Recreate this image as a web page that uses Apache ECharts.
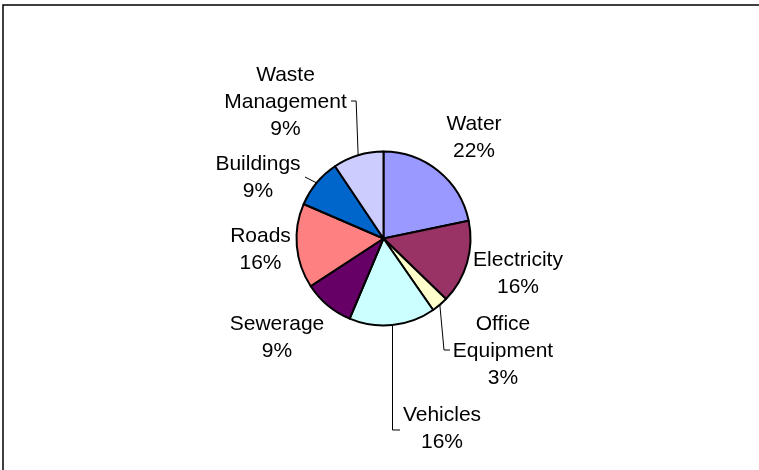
<!DOCTYPE html>
<html>
<head>
<meta charset="utf-8">
<script src="https://cdn.jsdelivr.net/npm/echarts@6/dist/echarts.min.js"></script>
<style>
  html, body { margin: 0; padding: 0; background: #fff; }
  #chart { width: 759px; height: 470px; }
</style>
</head>
<body>
<div id="chart"></div>
<script>
// ---- data ----
const categories = ['Water', 'Electricity', 'Office Equipment', 'Vehicles', 'Sewerage', 'Roads', 'Buildings', 'Waste Management'];
const values = [21.7, 15.5, 3.1, 16.0, 9.4, 15.7, 9.1, 9.4];

// ---- style ----
const colors = ['#9999FF', '#993366', '#FFFFCC', '#CCFFFF', '#660066', '#FF8080', '#0066CC', '#CCCCFF'];
const CX = 383.5, CY = 238.5, R = 87;
// label block centers (layout only)
const labelPos = [[474, 137.5], [518, 273.5], [503, 351], [442, 428.5], [277, 337.5], [260.5, 250], [258, 178], [285.5, 102]];
const hasLeader = [false, false, true, true, false, false, true, true];

const total = values.reduce((a, b) => a + b, 0);
function edgePoint(i) {
  let before = 0;
  for (let k = 0; k < i; k++) before += values[k];
  const mid = (before + values[i] / 2) / total * 2 * Math.PI;
  return [CX + R * Math.sin(mid), CY - R * Math.cos(mid)];
}
function leader(i) {
  const e = edgePoint(i);
  const p = labelPos[i];
  switch (i) {
    case 7: return [e, [e[0] - 2, p[1] - 1], [351, p[1] - 1]];
    case 2: return [e, [444, p[1] - 1], [450, p[1] - 1]];
    case 3: return [e, [e[0], p[1] + 1.5], [400, p[1] + 1.5]];
    case 6: return [e, [305, 177]];
  }
  return [e, e];
}

const chart = echarts.init(document.getElementById('chart'), null, { renderer: 'canvas' });
chart.setOption({
  animation: false,
  backgroundColor: '#ffffff',
  graphic: [{
    type: 'rect',
    shape: { x: 3, y: 5, width: 800, height: 500 },
    style: { fill: 'none', stroke: '#000', lineWidth: 1.5 },
    silent: true
  }],
  series: [{
    type: 'pie',
    center: [CX, CY],
    radius: R,
    startAngle: 90,
    clockwise: true,
    percentPrecision: 0,
    avoidLabelOverlap: false,
    emphasis: { disabled: true },
    itemStyle: { borderColor: '#000', borderWidth: 2 },
    label: {
      show: true,
      position: 'outside',
      color: '#000',
      fontFamily: 'Liberation Sans, Arial, sans-serif',
      fontSize: 21,
      lineHeight: 27,
      formatter: function (p) {
        return p.name.replace(' ', '\n') + '\n' + Math.round(p.percent) + '%';
      }
    },
    labelLine: { show: true, lineStyle: { color: '#000', width: 1 } },
    labelLayout: function (params) {
      const i = params.dataIndex;
      const out = {
        x: labelPos[i][0],
        y: labelPos[i][1],
        align: 'center',
        verticalAlign: 'middle'
      };
      if (hasLeader[i]) out.labelLinePoints = leader(i);
      return out;
    },
    data: categories.map((name, i) => ({
      name: name,
      value: values[i],
      itemStyle: { color: colors[i] },
      labelLine: { show: hasLeader[i] }
    }))
  }]
});
</script>
</body>
</html>
